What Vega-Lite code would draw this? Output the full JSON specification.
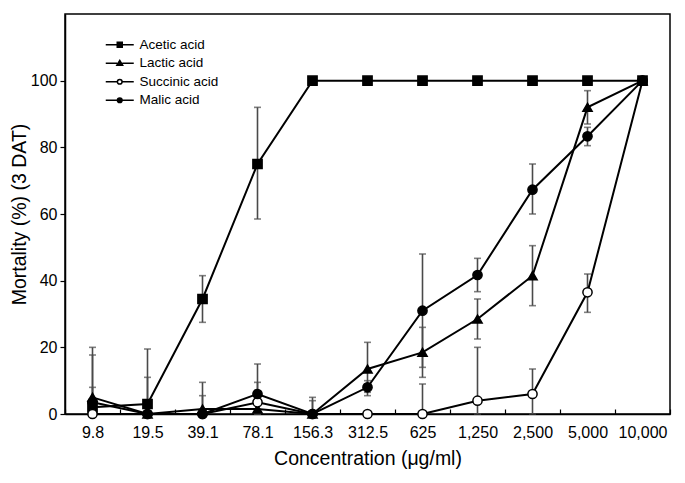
{
  "$schema": "https://vega.github.io/schema/vega-lite/v6.json",
  "autosize": "none",
  "width": 605,
  "height": 400,
  "padding": {"left": 65, "top": 14, "right": 15, "bottom": 69},
  "config": {
    "font": "Liberation Sans",
    "view": {"stroke": "black", "strokeWidth": 1.5},
    "axis": {"labelColor": "black", "titleColor": "black", "domainColor": "black", "tickColor": "black", "domainWidth": 1.5, "tickWidth": 1.2, "grid": false, "labelFont": "Liberation Sans", "titleFont": "Liberation Sans", "titleFontWeight": "normal"}
  },
  "datasets": {
    "pts": [
      {"acid": "Acetic acid", "c": 9.8, "m": 2},
      {"acid": "Acetic acid", "c": 19.5, "m": 3},
      {"acid": "Acetic acid", "c": 39.1, "m": 34.5},
      {"acid": "Acetic acid", "c": 78.1, "m": 75},
      {"acid": "Acetic acid", "c": 156.3, "m": 100},
      {"acid": "Acetic acid", "c": 312.5, "m": 100},
      {"acid": "Acetic acid", "c": 625, "m": 100},
      {"acid": "Acetic acid", "c": 1250, "m": 100},
      {"acid": "Acetic acid", "c": 2500, "m": 100},
      {"acid": "Acetic acid", "c": 5000, "m": 100},
      {"acid": "Acetic acid", "c": 10000, "m": 100},
      {"acid": "Lactic acid", "c": 9.8, "m": 5},
      {"acid": "Lactic acid", "c": 19.5, "m": 0},
      {"acid": "Lactic acid", "c": 39.1, "m": 1.5},
      {"acid": "Lactic acid", "c": 78.1, "m": 1.5},
      {"acid": "Lactic acid", "c": 156.3, "m": 0},
      {"acid": "Lactic acid", "c": 312.5, "m": 13.5},
      {"acid": "Lactic acid", "c": 625, "m": 18.5},
      {"acid": "Lactic acid", "c": 1250, "m": 28.5},
      {"acid": "Lactic acid", "c": 2500, "m": 41.5},
      {"acid": "Lactic acid", "c": 5000, "m": 92},
      {"acid": "Lactic acid", "c": 10000, "m": 100},
      {"acid": "Succinic acid", "c": 9.8, "m": 0},
      {"acid": "Succinic acid", "c": 19.5, "m": 0},
      {"acid": "Succinic acid", "c": 39.1, "m": 0},
      {"acid": "Succinic acid", "c": 78.1, "m": 3.5},
      {"acid": "Succinic acid", "c": 156.3, "m": 0},
      {"acid": "Succinic acid", "c": 312.5, "m": 0},
      {"acid": "Succinic acid", "c": 625, "m": 0},
      {"acid": "Succinic acid", "c": 1250, "m": 4},
      {"acid": "Succinic acid", "c": 2500, "m": 6},
      {"acid": "Succinic acid", "c": 5000, "m": 36.5},
      {"acid": "Succinic acid", "c": 10000, "m": 100},
      {"acid": "Malic acid", "c": 9.8, "m": 3.5},
      {"acid": "Malic acid", "c": 19.5, "m": 0},
      {"acid": "Malic acid", "c": 39.1, "m": 0},
      {"acid": "Malic acid", "c": 78.1, "m": 6},
      {"acid": "Malic acid", "c": 156.3, "m": 0},
      {"acid": "Malic acid", "c": 312.5, "m": 8},
      {"acid": "Malic acid", "c": 625, "m": 31},
      {"acid": "Malic acid", "c": 1250, "m": 41.7},
      {"acid": "Malic acid", "c": 2500, "m": 67.3},
      {"acid": "Malic acid", "c": 5000, "m": 83.3},
      {"acid": "Malic acid", "c": 10000, "m": 100}
    ],
    "err": [
      {"acid": "Acetic acid", "c": 9.8, "lo": 0, "hi": 8},
      {"acid": "Acetic acid", "c": 19.5, "lo": 0, "hi": 19.5},
      {"acid": "Acetic acid", "c": 39.1, "lo": 27.5, "hi": 41.5},
      {"acid": "Acetic acid", "c": 78.1, "lo": 58.5, "hi": 92},
      {"acid": "Lactic acid", "c": 9.8, "lo": 0, "hi": 20},
      {"acid": "Lactic acid", "c": 19.5, "lo": 0, "hi": 11},
      {"acid": "Lactic acid", "c": 39.1, "lo": 0, "hi": 9.5},
      {"acid": "Lactic acid", "c": 156.3, "lo": 0, "hi": 5},
      {"acid": "Lactic acid", "c": 312.5, "lo": 5.5, "hi": 21.5},
      {"acid": "Lactic acid", "c": 625, "lo": 11, "hi": 26},
      {"acid": "Lactic acid", "c": 1250, "lo": 22.5, "hi": 34.5},
      {"acid": "Lactic acid", "c": 2500, "lo": 32.5, "hi": 50.5},
      {"acid": "Lactic acid", "c": 5000, "lo": 87, "hi": 97},
      {"acid": "Succinic acid", "c": 78.1, "lo": 0, "hi": 9.5},
      {"acid": "Succinic acid", "c": 625, "lo": 0, "hi": 9},
      {"acid": "Succinic acid", "c": 1250, "lo": 0, "hi": 20},
      {"acid": "Succinic acid", "c": 2500, "lo": 0, "hi": 13.5},
      {"acid": "Succinic acid", "c": 5000, "lo": 30.5, "hi": 42},
      {"acid": "Malic acid", "c": 9.8, "lo": 0, "hi": 17.7},
      {"acid": "Malic acid", "c": 39.1, "lo": 0, "hi": 5.5},
      {"acid": "Malic acid", "c": 78.1, "lo": 0, "hi": 15},
      {"acid": "Malic acid", "c": 156.3, "lo": 0, "hi": 4},
      {"acid": "Malic acid", "c": 312.5, "lo": 6.5, "hi": 10},
      {"acid": "Malic acid", "c": 625, "lo": 14, "hi": 48},
      {"acid": "Malic acid", "c": 1250, "lo": 36.7, "hi": 46.7},
      {"acid": "Malic acid", "c": 2500, "lo": 60, "hi": 75},
      {"acid": "Malic acid", "c": 5000, "lo": 80.5, "hi": 86}
    ]
  },
  "layer": [
    {
      "data": {"name": "err"},
      "mark": {"type": "rule", "color": "#4a4a4a", "strokeWidth": 1.6},
      "encoding": {
        "x": {"field": "c", "type": "ordinal", "bandPosition": 0.5, "scale": {"type": "band", "paddingInner": 0, "paddingOuter": 0},
          "axis": {"title": "Concentration (μg/ml)", "labelExpr": "isValid(datum.value) ? format(datum.value, ',') : ''", "labelAngle": 0, "tickBand": "extent", "tickSize": -5, "labelFontSize": 16, "titleFontSize": 19.5, "labelPadding": 15, "titlePadding": 9}},
        "y": {"field": "lo", "type": "quantitative", "scale": {"domain": [0, 120], "nice": false},
          "axis": {"title": "Mortality (%) (3 DAT)", "values": [0, 20, 40, 60, 80, 100], "tickSize": 5, "labelFontSize": 16, "titleFontSize": 19.5, "labelPadding": 3, "titlePadding": 1}},
        "y2": {"field": "hi"}
      }
    },
    {
      "data": {"name": "err"},
      "mark": {"type": "tick", "color": "#4a4a4a", "size": 7, "thickness": 1.6},
      "encoding": {
        "x": {"field": "c", "type": "ordinal", "bandPosition": 0.5},
        "y": {"field": "hi", "type": "quantitative"}
      }
    },
    {
      "data": {"name": "err"},
      "mark": {"type": "tick", "color": "#4a4a4a", "size": 7, "thickness": 1.6},
      "encoding": {
        "x": {"field": "c", "type": "ordinal", "bandPosition": 0.5},
        "y": {"field": "lo", "type": "quantitative"}
      }
    },
    {
      "data": {"name": "pts"},
      "mark": {"type": "line", "color": "black", "strokeWidth": 2},
      "encoding": {
        "x": {"field": "c", "type": "ordinal", "bandPosition": 0.5},
        "y": {"field": "m", "type": "quantitative"},
        "detail": {"field": "acid"}
      }
    },
    {
      "data": {"name": "pts"},
      "mark": {"type": "point", "stroke": "black", "strokeWidth": 1.5, "opacity": 1, "size": 85},
      "encoding": {
        "x": {"field": "c", "type": "ordinal", "bandPosition": 0.5},
        "y": {"field": "m", "type": "quantitative"},
        "shape": {"field": "acid", "type": "nominal", "legend": null,
          "scale": {"domain": ["Acetic acid", "Lactic acid", "Succinic acid", "Malic acid"], "range": ["square", "triangle-up", "circle", "circle"]}},
        "fill": {"field": "acid", "type": "nominal", "legend": null,
          "scale": {"domain": ["Acetic acid", "Lactic acid", "Succinic acid", "Malic acid"], "range": ["black", "black", "white", "black"]}}
      }
    },
    {
      "data": {"name": "pts"},
      "transform": [{"filter": "datum.m < -1000"}],
      "mark": {"type": "point", "stroke": "black", "strokeWidth": 2, "opacity": 1},
      "encoding": {
        "shape": {"field": "label", "type": "nominal",
          "scale": {"domain": ["Acetic acid", "Lactic acid", "Succinic acid", "Malic acid"],
            "range": [
              "M-2.8,0H-0.5M0.5,0H2.8M-0.5,-0.5H0.5V0.5H-0.5Z",
              "M-2.8,0H-0.5M0.5,0H2.8M0,-0.58L0.58,0.4L-0.58,0.4Z",
              "M-2.8,0H-0.47M0.47,0H2.8M0.47,0A0.47,0.47 0 1,1 -0.47,0A0.47,0.47 0 1,1 0.47,0Z",
              "M-2.8,0H-0.47M0.47,0H2.8M0.47,0A0.47,0.47 0 1,1 -0.47,0A0.47,0.47 0 1,1 0.47,0Z"
            ]},
          "legend": {"title": null, "orient": "none", "legendX": 48, "legendY": 24, "padding": 0, "symbolSize": 100, "labelFontSize": 13.5, "labelColor": "black", "labelOffset": 13, "rowPadding": 3.5,
            "encode": {"symbols": {"update": {"stroke": {"value": "black"}, "strokeWidth": {"value": 2}, "opacity": {"value": 1}}}}}},
        "fill": {"field": "label", "type": "nominal",
          "scale": {"domain": ["Acetic acid", "Lactic acid", "Succinic acid", "Malic acid"], "range": ["black", "black", "white", "black"]}}
      }
    }
  ],
  "resolve": {"scale": {"shape": "independent", "fill": "independent"}}
}
